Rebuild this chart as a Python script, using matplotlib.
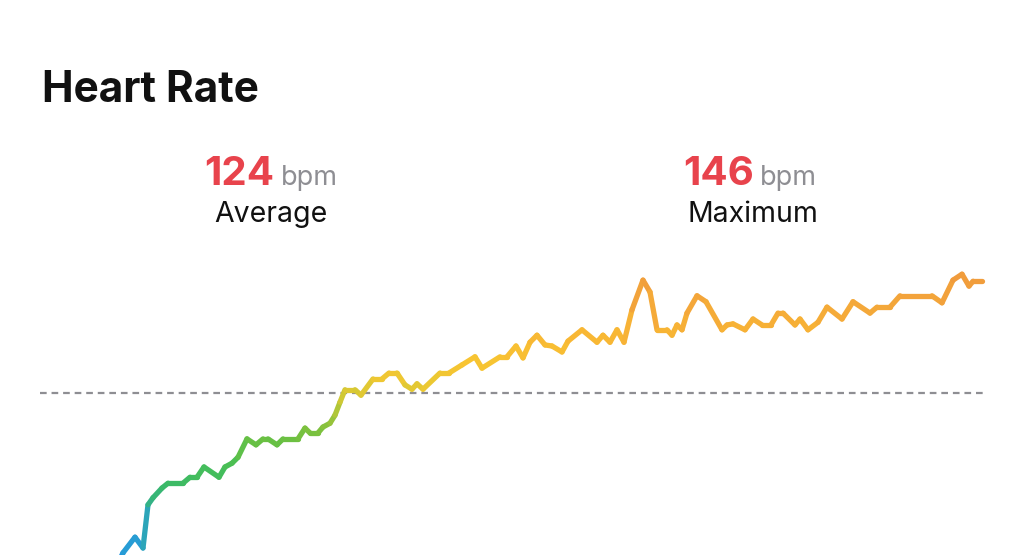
import matplotlib
matplotlib.use("Agg")
import matplotlib.pyplot as plt
import numpy as np
from matplotlib.collections import LineCollection
from matplotlib.colors import LinearSegmentedColormap

# heart rate samples (time in minutes, bpm)
minutes = [3.75, 4.15, 4.75, 5.15, 5.4, 5.65, 6.1, 6.4, 7.15, 7.5, 7.85, 8.2, 8.95, 9.25,
           9.6, 9.9, 10.35, 10.8, 11.15, 11.4, 11.85, 12.15, 12.9, 13.25, 13.5, 13.9, 14.15,
           14.5, 14.75, 15.0, 15.25, 15.75, 16.05, 16.65, 17.1, 17.45, 17.85, 18.25, 18.6,
           18.85, 19.15, 20.0, 20.45, 21.1, 21.75, 22.1, 23.0, 23.35, 23.8, 24.15, 24.5,
           24.85, 25.25, 25.6, 26.1, 26.4, 27.1, 27.85, 28.15, 28.5, 28.85, 29.2, 29.6,
           30.15, 30.5, 30.85, 31.35, 31.6, 31.85, 32.1, 32.35, 32.85, 33.3, 34.1, 34.35,
           34.65, 35.25, 35.65, 36.1, 36.55, 36.9, 37.15, 37.75, 38.0, 38.4, 38.9, 39.35,
           40.1, 40.65, 41.5, 41.85, 42.5, 43.0, 44.6, 45.1, 45.65, 46.1, 46.45, 46.65, 47.1]
bpm = [91.2, 94.4, 97.3, 95.3, 103.3, 104.6, 106.4, 107.3, 107.3, 108.4, 108.4, 110.3, 108.4,
       110.3, 111.0, 112.1, 115.5, 114.4, 115.5, 115.5, 114.4, 115.5, 115.5, 117.5, 116.6,
       116.6, 117.7, 118.4, 119.9, 122.3, 124.6, 124.6, 123.6, 126.6, 126.6, 127.7, 127.7,
       125.5, 124.7, 125.7, 124.7, 127.7, 127.7, 129.2, 130.7, 128.6, 130.7, 130.7, 132.7,
       130.5, 133.4, 134.7, 132.9, 132.7, 131.6, 133.6, 135.7, 133.4, 134.7, 133.4, 135.7,
       133.4, 139.4, 144.9, 142.7, 135.7, 135.7, 134.7, 136.6, 135.7, 138.8, 142.0, 140.9,
       135.7, 136.6, 136.8, 135.7, 137.7, 136.6, 136.6, 138.8, 138.8, 136.6, 137.7, 135.7,
       137.1, 139.9, 137.7, 140.9, 138.8, 139.9, 139.9, 142.0, 142.0, 140.7, 144.9, 146.0,
       143.8, 144.7, 144.7]

average = 124
maximum = 146

# colour scale by heart rate
zone_bpm = [91, 97, 103, 107, 112, 116, 120, 123, 126, 130, 135, 140, 146]
zone_colors = ["#1e8fe8", "#2a9fd0", "#30b090", "#3cba66", "#4ec050", "#70c040", "#a0c43a",
               "#c8c834", "#ecc832", "#f8c432", "#f8b634", "#f4a83a", "#f09a3c"]
pos = [(b - zone_bpm[0]) / (zone_bpm[-1] - zone_bpm[0]) for b in zone_bpm]
cmap = LinearSegmentedColormap.from_list("hr", list(zip(pos, zone_colors)))

W, H = 1024, 555
fig = plt.figure(figsize=(W / 100, H / 100), dpi=100)
fig.patch.set_facecolor("white")
ax = fig.add_axes([0, 0, 1, 1])
ax.set_axis_off()
# 20 px per minute, 5.4 px per bpm, dashed average line at y=393 px
ax.set_xlim(-2, -2 + W / 20)
ax.set_ylim(average - (H - 393) / 5.4, average + 393 / 5.4)

# average line
ax.plot([0, 47.25], [average, average], color="#8e8e93", lw=1.6, ls=(0, (3, 2.2)))

pts = np.column_stack([minutes, bpm])
segs = np.stack([pts[:-1], pts[1:]], axis=1)
mid = (np.array(bpm[:-1]) + np.array(bpm[1:])) / 2
norm = plt.Normalize(zone_bpm[0], zone_bpm[-1])
lc = LineCollection(segs, colors=cmap(norm(mid)), linewidths=3.8,
                    capstyle="round", joinstyle="round")
ax.add_collection(lc)

font = ["Inter", "DejaVu Sans"]


def fx(px):
    return px / W


def fy(py):
    return 1 - py / H


fig.text(fx(42), fy(102), "Heart Rate", fontsize=30.5, fontweight="bold",
         family=font, color="#111111", va="baseline")

for left, value, label_x, label in [(204, average, 271, "Average"),
                                    (683, maximum, 753, "Maximum")]:
    fig.text(fx(left), fy(185), str(value), fontsize=29, fontweight="bold",
             family=font, color="#e8434c", va="baseline")
    fig.text(fx(left + 77), fy(185), "bpm", fontsize=19.5, family=font,
             color="#8e8e93", va="baseline")
    fig.text(fx(label_x), fy(222), label, fontsize=20.5, family=font,
             color="#111111", va="baseline", ha="center")

fig.savefig("out.png", dpi=100, facecolor="white")
